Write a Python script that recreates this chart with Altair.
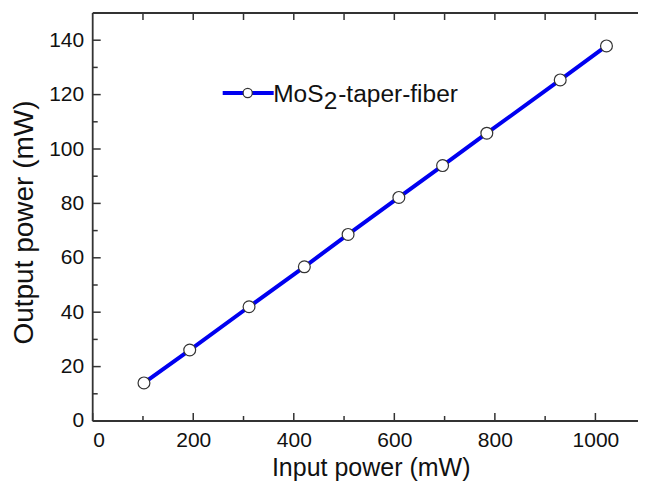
import altair as alt
import pandas as pd

# data
input_power = [102, 193, 311, 421, 508, 609, 696, 784, 930, 1022]
output_power = [14.0, 26.1, 42.0, 56.7, 68.6, 82.2, 93.9, 105.8, 125.4, 137.9]

x_major = [0, 200, 400, 600, 800, 1000]
x_minor = [100, 300, 500, 700, 900]
x_top = [100, 200, 300, 400, 500, 600, 700, 800, 900, 1000]
y_major = [0, 20, 40, 60, 80, 100, 120, 140]
y_minor = [10, 30, 50, 70, 90, 110, 130]

W, H = 545, 408      # visible plot width (frame continues past the page edge)
XR = 553             # pixel length of the 0..1100 range
FONT = "Liberation Sans"
FRAME = "#333333"
BLUE = "#0000f0"

df = pd.DataFrame({"x": input_power, "y": output_power})

xs = alt.Scale(domain=[0, 1100], range=[0, XR], nice=False, zero=False)
ys = alt.Scale(domain=[0, 150], nice=False, zero=False)

base = alt.Chart(df)

line = base.mark_line(color=BLUE, strokeWidth=4).encode(
    x=alt.X("x:Q", scale=xs, axis=alt.Axis(
        values=x_major, format="d", title="Input power (mW)", titleX=278, titleY=55,
        titleBaseline="alphabetic", labelPadding=9)),
    y=alt.Y("y:Q", scale=ys, axis=alt.Axis(
        values=y_major, title="Output power (mW)", titleX=-60, titleY=209,
        titleBaseline="alphabetic", titleAngle=-90, labelPadding=9,
        titleFontSize=28)),
)
pts = base.mark_point(filled=True, fill="white", stroke=FRAME, strokeWidth=1.2,
                      size=140, opacity=1).encode(
    x=alt.X("x:Q", scale=xs), y=alt.Y("y:Q", scale=ys))


def rules(vals, ch, **enc):
    d = pd.DataFrame({"v": vals})
    if ch == "x":
        e = dict(x=alt.X("v:Q", scale=xs))
    else:
        e = dict(y=alt.Y("v:Q", scale=ys))
    e.update(enc)
    return alt.Chart(d).mark_rule(color=FRAME, strokeWidth=1.5).encode(**e)


ticks = [
    rules(x_major, "x", y=alt.value(H), y2=alt.value(H - 8)),
    rules(x_minor, "x", y=alt.value(H), y2=alt.value(H - 5)),
    rules(x_top, "x", y=alt.value(0), y2=alt.value(7)),
    rules(y_major, "y", x=alt.value(0), x2=alt.value(8)),
    rules(y_minor, "y", x=alt.value(0), x2=alt.value(5)),
]

one = pd.DataFrame({"k": [0]})


def frame_line(**enc):
    return alt.Chart(one).mark_rule(color=FRAME, strokeWidth=1.8).encode(**enc)


frame = [
    frame_line(x=alt.value(0), y=alt.value(0), y2=alt.value(H)),
    frame_line(x=alt.value(0), x2=alt.value(XR), y=alt.value(H)),
    frame_line(x=alt.value(0), x2=alt.value(XR), y=alt.value(0)),
]

leg_line = alt.Chart(one).mark_rule(color=BLUE, strokeWidth=4).encode(
    x=alt.value(130), x2=alt.value(181), y=alt.value(80))
leg_pt = alt.Chart(one).mark_point(filled=True, fill="white", stroke=FRAME,
                                   strokeWidth=1.2, size=85, opacity=1).encode(
    x=alt.value(155), y=alt.value(80))


def txt(s, x, y):
    return alt.Chart(one).mark_text(
        text=s, align="left", baseline="alphabetic", font=FONT, fontSize=24.5,
        color="#111111").encode(x=alt.value(x), y=alt.value(y))


leg_txt = [txt("MoS", 180.5, 88.5), txt("2", 231, 96), txt("-taper-fiber", 245.5, 88.5)]

chart = alt.layer(line, pts, *ticks, *frame, leg_line, leg_pt, *leg_txt).properties(
    width=W, height=H,
    autosize=alt.AutoSizeParams(type="none"),
    padding={"left": 84.7, "top": 5, "right": 0, "bottom": 61},
).configure_view(stroke="transparent", strokeWidth=0).configure_axis(
    domain=False, ticks=False, grid=False,
    labelFont=FONT, labelFontSize=21, labelColor="#111111",
    titleFont=FONT, titleFontSize=25, titleColor="#111111", titleFontWeight="normal",
)

chart.save("out.html", embed_options={"renderer": "svg", "actions": False})
